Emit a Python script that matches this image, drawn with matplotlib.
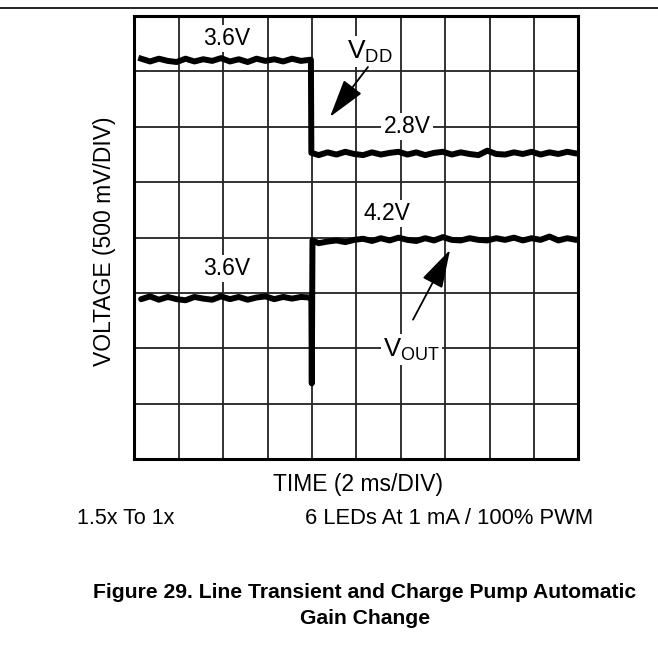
import matplotlib.pyplot as plt
from matplotlib.lines import Line2D
import numpy as np

plt.rcParams['font.family'] = ['Liberation Sans', 'DejaVu Sans']

# scope screen: x in ms (2 ms/div, 10 div), y in divisions (8 div)
vdd_t = [0.3, 0.7, 1.1, 1.5, 1.9, 2.3, 2.7, 3.1, 3.5, 3.9, 4.3, 4.7, 5.1, 5.5, 5.9,
         6.3, 6.7, 7.1, 7.5, 7.9, 7.95, 7.97, 8.3, 8.7, 9.1, 9.5, 9.9, 10.3, 10.7,
         11.1, 11.5, 11.9, 12.3, 12.7, 13.1, 13.5, 13.9, 14.3, 14.7, 15.1, 15.5,
         15.9, 16.3, 16.7, 17.1, 17.5, 17.9, 18.3, 18.7, 19.1, 19.5, 19.9, 20.0]
vdd_v = [7.23, 7.18, 7.23, 7.19, 7.17, 7.23, 7.18, 7.22, 7.19, 7.24, 7.18, 7.22, 7.17,
         7.23, 7.19, 7.22, 7.18, 7.23, 7.19, 7.21, 7.21, 5.53, 5.49, 5.54, 5.50, 5.55,
         5.51, 5.49, 5.54, 5.50, 5.53, 5.55, 5.50, 5.54, 5.49, 5.53, 5.55, 5.50, 5.54,
         5.51, 5.49, 5.57, 5.51, 5.50, 5.54, 5.51, 5.55, 5.50, 5.54, 5.51, 5.55, 5.52, 5.52]

vout_t = [0.3, 0.7, 1.1, 1.5, 1.9, 2.3, 2.7, 3.1, 3.5, 3.9, 4.3, 4.7, 5.1, 5.5, 5.9,
          6.3, 6.7, 7.1, 7.5, 7.9, 7.97, 7.99, 8.02, 8.3, 8.7, 9.1, 9.5, 9.9, 10.3,
          10.7, 11.1, 11.5, 11.9, 12.3, 12.7, 13.1, 13.5, 13.9, 14.3, 14.7, 15.1,
          15.5, 15.9, 16.3, 16.7, 17.1, 17.5, 17.9, 18.3, 18.7, 19.1, 19.5, 19.9, 20.0]
vout_v = [2.89, 2.94, 2.88, 2.93, 2.89, 2.87, 2.93, 2.90, 2.88, 2.94, 2.89, 2.93, 2.88,
          2.92, 2.94, 2.89, 2.93, 2.90, 2.93, 2.92, 2.92, 1.37, 3.95, 3.90, 3.93, 3.95,
          3.92, 3.96, 3.98, 3.94, 3.99, 3.95, 4.00, 3.96, 3.94, 3.99, 3.95, 4.01, 3.96,
          3.95, 3.99, 3.96, 3.95, 3.99, 3.96, 4.00, 3.95, 3.99, 3.96, 4.02, 3.95, 3.99,
          3.96, 3.97]

labels = ['3.6V', '2.8V', '4.2V', '3.6V']
label_xy = [(4.17, 7.60), (12.28, 6.00), (11.38, 4.44), (4.17, 3.44)]

fig = plt.figure(figsize=(6.58, 6.49), dpi=100)
ax = fig.add_axes([0.2044, 0.2923, 0.6745, 0.6830])
ax.set_xlim(0, 20)
ax.set_ylim(0, 8)
ax.set_xticks(np.arange(0, 21, 2))
ax.set_yticks(np.arange(0, 9, 1))
ax.tick_params(length=0, labelbottom=False, labelleft=False)
ax.grid(True, color='#222222', lw=1.3)
ax.set_axisbelow(True)
for s in ax.spines.values():
    s.set_linewidth(2.2)

ax.plot(vdd_t, vdd_v, color='black', lw=4.3, solid_joinstyle='round', zorder=3)
ax.plot(vout_t, vout_v, color='black', lw=4.3, solid_joinstyle='round',
        solid_capstyle='round', zorder=3)

box = dict(facecolor='white', edgecolor='none', pad=1.5)
for txt, (x, y) in zip(labels, label_xy):
    ax.text(x, y, txt, fontsize=16.5, ha='center', va='center', bbox=box, zorder=4)

ax.text(10.6, 7.36, r'$\mathregular{V_{DD}}$', fontsize=19, ha='center', va='center',
        bbox=box, zorder=4)
ax.text(12.5, 1.98, r'$\mathregular{V_{OUT}}$', fontsize=18.5, ha='center', va='center',
        bbox=box, zorder=4)

arrow = dict(arrowstyle='-|>,head_length=1.2,head_width=0.35', color='black', lw=1.3,
             mutation_scale=20, shrinkA=0, shrinkB=0)
ax.annotate('', xy=(8.81, 6.18), xytext=(10.52, 7.08), arrowprops=arrow, zorder=5)
ax.annotate('', xy=(14.22, 3.78), xytext=(12.55, 2.52), arrowprops=arrow, zorder=5)

fig.add_artist(Line2D([0, 1], [1 - 8 / 649] * 2, transform=fig.transFigure,
                      color='black', lw=1.2))

fig.text(358 / 658, 1 - 484 / 649, 'TIME (2 ms/DIV)', fontsize=16.5, ha='center', va='center')
fig.text(104 / 658, 1 - 241 / 649, 'VOLTAGE (500 mV/DIV)', fontsize=16.5, ha='center',
         va='center', rotation=90)
fig.text(77 / 658, 1 - 518 / 649, '1.5x To 1x', fontsize=15.5, ha='left', va='center')
fig.text(305 / 658, 1 - 518 / 649, '6 LEDs At 1 mA / 100% PWM', fontsize=15.8, ha='left',
         va='center')
fig.text(365 / 658, 1 - 592 / 649, 'Figure 29. Line Transient and Charge Pump Automatic',
         fontsize=15.2, fontweight='bold', ha='center', va='center')
fig.text(365 / 658, 1 - 618 / 649, 'Gain Change', fontsize=15.2, fontweight='bold',
         ha='center', va='center')

fig.savefig('out.png', dpi=100)
